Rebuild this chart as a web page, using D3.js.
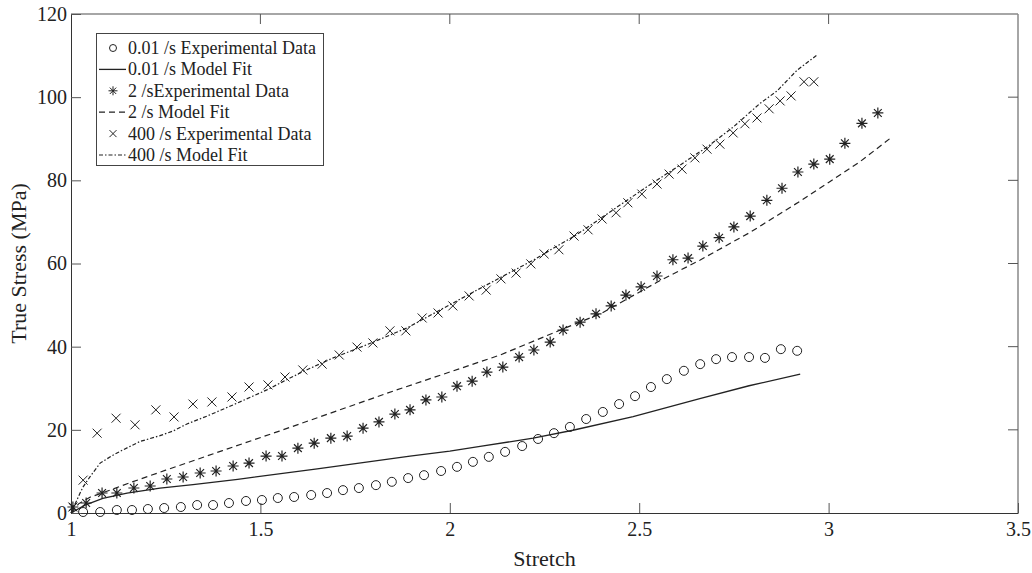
<!DOCTYPE html>
<html>
<head>
<meta charset="utf-8">
<script src="https://cdnjs.cloudflare.com/ajax/libs/d3/7.8.5/d3.min.js"></script>
<style>
  body { margin: 0; background: #fff; }
  text { font-family: "Liberation Serif", "Times New Roman", serif; fill: #222; }
</style>
</head>
<body>
<svg id="chart" width="1032" height="573"></svg>
<script>
// 0.01 /s experimental data
const expStretch001 = [1.032, 1.077, 1.121, 1.161, 1.203, 1.246, 1.290, 1.333, 1.375, 1.417, 1.462, 1.504, 1.546, 1.589, 1.634,
  1.676, 1.718, 1.760, 1.805, 1.847, 1.890, 1.932, 1.977, 2.019, 2.061, 2.103, 2.146, 2.191, 2.233, 2.275,
  2.317, 2.360, 2.404, 2.447, 2.489, 2.531, 2.573, 2.618, 2.661, 2.703, 2.745, 2.790, 2.832, 2.874, 2.917];
const expStress001 = [0.24, 0.24, 0.72, 0.72, 0.96, 1.2, 1.44, 1.92, 1.92, 2.4, 2.89, 3.13, 3.6, 3.85, 4.33,
  4.8, 5.5, 6.0, 6.7, 7.5, 8.4, 9.1, 10.1, 11.1, 12.3, 13.5, 14.7, 16.1, 17.8, 19.2,
  20.7, 22.6, 24.3, 26.2, 28.1, 30.3, 32.2, 34.2, 35.8, 37.0, 37.5, 37.5, 37.3, 39.4, 39.0];

// 0.01 /s model fit
const fitStretch001 = [1.0, 1.037, 1.084, 1.148, 1.235, 1.322, 1.44, 1.65, 1.895, 2.0, 2.08, 2.22, 2.325, 2.484, 2.66, 2.79, 2.925];
const fitStress001 = [0, 1.9, 3.5, 4.8, 6.0, 6.8, 8.1, 10.6, 13.7, 14.9, 16.0, 18.0, 19.9, 23.2, 27.5, 30.6, 33.4];

// 2 /s experimental data
const expStretch2 = [1.005, 1.040, 1.082, 1.121, 1.166, 1.209, 1.253, 1.296, 1.341, 1.383, 1.428, 1.470, 1.515, 1.557, 1.599,
  1.642, 1.686, 1.729, 1.771, 1.813, 1.855, 1.895, 1.937, 1.979, 2.019, 2.059, 2.098, 2.140, 2.183, 2.222,
  2.265, 2.299, 2.344, 2.386, 2.426, 2.465, 2.505, 2.547, 2.589, 2.629, 2.668, 2.711, 2.750, 2.793, 2.837,
  2.877, 2.919, 2.961, 3.003, 3.043, 3.088, 3.130];
const expStress2 = [1.44, 2.4, 4.81, 4.81, 6.01, 6.49, 8.18, 8.66, 9.62, 10.1, 11.3, 12.0, 13.7, 13.7, 15.6,
  16.8, 18.0, 18.5, 20.4, 21.9, 23.8, 24.8, 27.2, 27.9, 30.5, 31.7, 33.9, 35.1, 37.5, 39.2,
  41.1, 44.0, 45.9, 47.9, 49.8, 52.4, 54.4, 57.0, 60.9, 61.3, 64.2, 66.2, 68.8, 71.4, 75.2,
  78.1, 82.0, 83.9, 85.1, 88.9, 93.7, 96.2];

// 2 /s model fit
const fitStretch2 = [1.0, 1.02, 1.05, 1.082, 1.15, 1.25, 1.4, 1.55, 1.7, 1.85, 2.0, 2.133, 2.3, 2.4, 2.547, 2.66, 2.793, 2.925, 3.0, 3.083, 3.167];
const fitStress2 = [0, 2.2, 3.8, 4.8, 7.1, 10.3, 15.0, 19.7, 24.5, 29.3, 33.9, 38.0, 44.3, 48.0, 55.5, 60.8, 67.5, 75.0, 79.5, 84.5, 90.4];

// 400 /s experimental data
const expStretch400 = [1.005, 1.032, 1.069, 1.119, 1.169, 1.224, 1.272, 1.322, 1.372, 1.425, 1.470, 1.520, 1.565, 1.612, 1.663,
  1.708, 1.755, 1.797, 1.842, 1.884, 1.927, 1.969, 2.008, 2.051, 2.096, 2.135, 2.175, 2.214, 2.249, 2.288,
  2.328, 2.365, 2.402, 2.439, 2.470, 2.507, 2.547, 2.579, 2.613, 2.647, 2.679, 2.713, 2.748, 2.779, 2.811,
  2.843, 2.872, 2.901, 2.935, 2.961];
const expStress400 = [1.44, 7.9, 19.2, 22.8, 21.2, 24.8, 23.1, 26.2, 26.7, 27.9, 30.3, 30.8, 32.7, 34.4, 35.8,
  38.0, 39.9, 40.9, 43.8, 43.8, 46.9, 48.1, 49.8, 52.2, 53.6, 56.3, 57.7, 59.9, 62.3, 63.3,
  66.6, 68.1, 70.7, 72.2, 74.6, 76.7, 79.1, 81.5, 82.7, 85.4, 87.5, 88.7, 91.4, 93.6, 95.0,
  97.2, 99.1, 100.3, 103.7, 103.7];

// 400 /s model fit
const fitStretch400 = [1.0, 1.005, 1.024, 1.032, 1.05, 1.077, 1.105, 1.129, 1.182, 1.235, 1.269, 1.306, 1.359, 1.428, 1.517,
  1.605, 1.692, 1.782, 1.887, 1.974, 2.088, 2.22, 2.336, 2.431, 2.521, 2.6, 2.679, 2.748, 2.819, 2.864, 2.917, 2.969];
const fitStress400 = [0, 1.0, 4.8, 6.3, 8.7, 12.0, 13.6, 14.8, 17.2, 18.6, 19.7, 21.4, 23.3, 26.0, 29.6,
  33.7, 37.3, 40.5, 44.5, 48.8, 54.4, 60.8, 67.0, 72.9, 78.5, 83.2, 88.0, 92.8, 98.5, 101.5, 106.5, 110.1];

const xTicks = [1, 1.5, 2, 2.5, 3, 3.5];
const yTicks = [0, 20, 40, 60, 80, 100, 120];

const legendLabels = ['0.01 /s Experimental Data', '0.01 /s Model Fit', '2 /sExperimental Data',
  '2 /s Model Fit', '400 /s Experimental Data', '400 /s Model Fit'];

const svg = d3.select('#chart');
const pLeft = 71, pRight = 1018, pTop = 14, pBottom = 513;

const x = d3.scaleLinear().domain([1, 3.5]).range([pLeft, pRight]);
const y = d3.scaleLinear().domain([0, 120]).range([pBottom, pTop]);

// frame
svg.append('line').attr('x1', pLeft).attr('x2', pRight).attr('y1', pTop).attr('y2', pTop)
  .attr('stroke', '#888').attr('stroke-width', 1.5);
svg.append('line').attr('x1', pRight).attr('x2', pRight).attr('y1', pTop).attr('y2', pBottom)
  .attr('stroke', '#888').attr('stroke-width', 1.5);

const tickLen = 10;
const xAxis = svg.append('g').attr('transform', `translate(0,${pBottom})`)
  .call(d3.axisBottom(x).tickValues(xTicks).tickSizeInner(-tickLen).tickSizeOuter(0).tickPadding(9)
    .tickFormat(d3.format('')));
const yAxis = svg.append('g').attr('transform', `translate(${pLeft},0)`)
  .call(d3.axisLeft(y).tickValues(yTicks).tickSizeInner(-tickLen).tickSizeOuter(0).tickPadding(4));
[xAxis, yAxis].forEach(g => {
  g.select('.domain').attr('stroke', '#333');
  g.selectAll('.tick line').attr('stroke', '#555');
  g.selectAll('.tick text').style('font-family', '"Liberation Serif", serif').style('font-size', '20px').attr('fill', '#222');
});
// top and right ticks
svg.append('g').selectAll('line').data(xTicks.slice(1, -1)).join('line')
  .attr('x1', d => x(d)).attr('x2', d => x(d)).attr('y1', pTop).attr('y2', pTop + tickLen).attr('stroke', '#555');
svg.append('g').selectAll('line').data(yTicks.slice(1, -1)).join('line')
  .attr('x1', pRight).attr('x2', pRight - tickLen).attr('y1', d => y(d)).attr('y2', d => y(d)).attr('stroke', '#555');

// axis titles
svg.append('text').attr('x', (pLeft + pRight) / 2).attr('y', 566).attr('text-anchor', 'middle')
  .style('font-size', '22px').text('Stretch');
svg.append('text').attr('transform', `translate(26,${(pTop + pBottom) / 2}) rotate(-90)`).attr('text-anchor', 'middle')
  .style('font-size', '22px').text('True Stress (MPa)');

const line = d3.line().x(d => x(d[0])).y(d => y(d[1]));
const zip = (a, b) => a.map((v, i) => [v, b[i]]);
const ink = '#222';

const starPath = r => {
  const d = r * Math.SQRT1_2;
  return `M${-r},0L${r},0M0,${-r}L0,${r}M${-d},${-d}L${d},${d}M${-d},${d}L${d},${-d}`;
};
const crossPath = r => `M${-r},${-r}L${r},${r}M${-r},${r}L${r},${-r}`;

const plot = svg.append('g');
plot.append('path').datum(zip(fitStretch001, fitStress001)).attr('d', line)
  .attr('fill', 'none').attr('stroke', ink).attr('stroke-width', 1.3);
plot.append('path').datum(zip(fitStretch2, fitStress2)).attr('d', line)
  .attr('fill', 'none').attr('stroke', ink).attr('stroke-width', 1.2).attr('stroke-dasharray', '6,4');
plot.append('path').datum(zip(fitStretch400, fitStress400)).attr('d', line)
  .attr('fill', 'none').attr('stroke', ink).attr('stroke-width', 1.2).attr('stroke-dasharray', '4,2,1.5,2');

plot.append('g').selectAll('circle').data(zip(expStretch001, expStress001)).join('circle')
  .attr('cx', d => x(d[0])).attr('cy', d => y(d[1])).attr('r', 4.5)
  .attr('fill', 'none').attr('stroke', ink).attr('stroke-width', 1);
plot.append('g').selectAll('path').data(zip(expStretch2, expStress2)).join('path')
  .attr('transform', d => `translate(${x(d[0])},${y(d[1])})`).attr('d', starPath(5.5))
  .attr('fill', 'none').attr('stroke', ink).attr('stroke-width', 1.2);
plot.append('g').selectAll('path').data(zip(expStretch400, expStress400)).join('path')
  .attr('transform', d => `translate(${x(d[0])},${y(d[1])})`).attr('d', crossPath(4.5))
  .attr('fill', 'none').attr('stroke', ink).attr('stroke-width', 1);

// legend
const lg = svg.append('g');
lg.append('rect').attr('x', 96.5).attr('y', 33.5).attr('width', 227).attr('height', 132)
  .attr('fill', '#fff').attr('stroke', '#444').attr('stroke-width', 1);
const rowY = i => 48 + i * 21.4;
const styles = [
  { type: 'circle' }, { type: 'line', dash: null, w: 1.3 },
  { type: 'star' }, { type: 'line', dash: '6,4', w: 1.2 },
  { type: 'cross' }, { type: 'line', dash: '4,2,1.5,2', w: 1.2 }
];
legendLabels.forEach((lab, i) => {
  const s = styles[i], cy = rowY(i);
  if (s.type === 'circle') {
    lg.append('circle').attr('cx', 113).attr('cy', cy).attr('r', 3.5).attr('fill', 'none').attr('stroke', ink);
  } else if (s.type === 'star') {
    lg.append('path').attr('transform', `translate(113,${cy})`).attr('d', starPath(4.5)).attr('fill', 'none').attr('stroke', ink);
  } else if (s.type === 'cross') {
    lg.append('path').attr('transform', `translate(113,${cy})`).attr('d', crossPath(3.5)).attr('fill', 'none').attr('stroke', ink);
  } else {
    lg.append('line').attr('x1', 99).attr('x2', 126).attr('y1', cy).attr('y2', cy)
      .attr('stroke', ink).attr('stroke-width', s.w).attr('stroke-dasharray', s.dash);
  }
  lg.append('text').attr('x', 128).attr('y', cy + 6).style('font-size', '18px').text(lab);
});
</script>
</body>
</html>
